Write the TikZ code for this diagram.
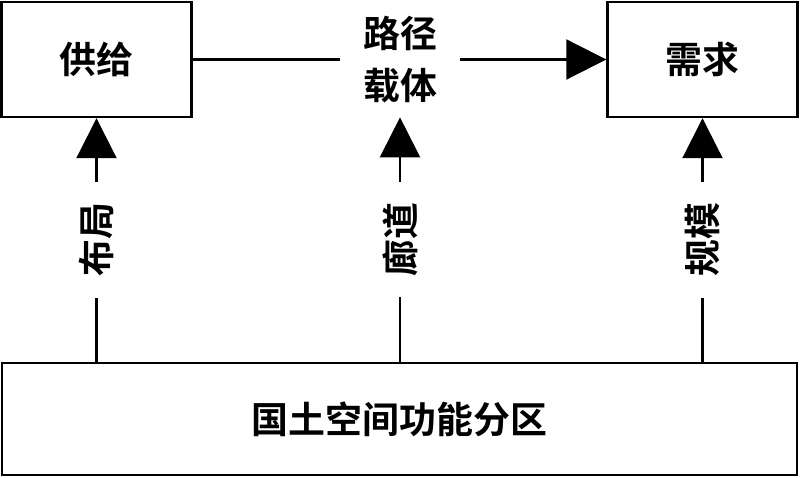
\documentclass[tikz,border=0pt]{standalone}
\usepackage{fontspec}
\newfontfamily\cjk{Noto Sans CJK SC}[BoldFont={Noto Sans CJK SC Bold}]
\usepackage{tikz}
\usetikzlibrary{arrows.meta, positioning}

\begin{document}
\begin{tikzpicture}[
      font=\cjk\bfseries\fontsize{21pt}{29.5pt}\selectfont,
      box/.style={rectangle, draw, line width=1.4pt, minimum width=3.8cm, minimum height=2.3cm},
      link/.style={line width=1.2pt, -{Triangle[length=0.8cm, width=0.8cm]}},
      tag/.style={fill=white, rotate=90, inner xsep=0.42cm, inner ysep=0.1cm}]

      \useasboundingbox (0,0) rectangle (16,9.56);

      \node[box] (supply) at (1.93,8.37) {供给};
      \node[box] (demand) at (14.05,8.37) {需求};
      \node[align=center, minimum width=2.4cm, minimum height=2.3cm, inner sep=0pt] (route) at (8,8.37) {路径\\载体};
      \node[box, minimum width=15.9cm, minimum height=2.24cm] (zone) at (7.99,1.18) {国土空间功能分区};

      % Arrows
      \draw[line width=1.2pt] (supply.east) -- (route.west);
      \draw[link] (route.east) -- (demand.west);

      \draw[link] (zone.north -| supply) -- node[tag] {布局} (supply.south);
      \draw[link] (zone.north -| route) -- node[tag] {廊道} (route.south);
      \draw[link] (zone.north -| demand) -- node[tag] {规模} (demand.south);
    \end{tikzpicture}
\end{document}
